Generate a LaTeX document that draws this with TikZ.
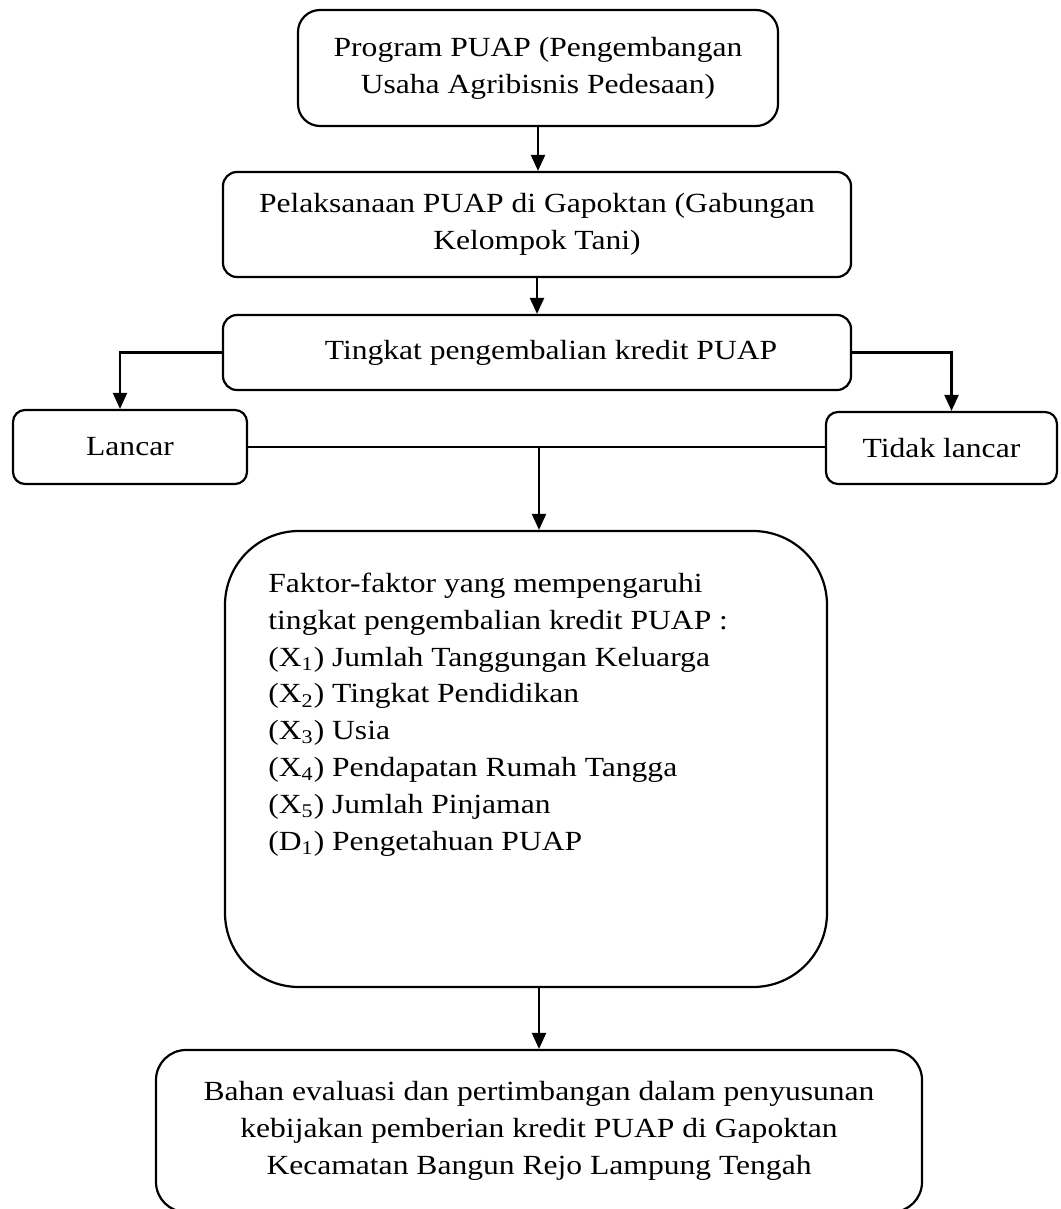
\documentclass[tikz,border=0pt]{standalone}
\usepackage{fontspec}
\setmainfont{Liberation Serif}[FakeStretch=1.14]
\usetikzlibrary{arrows.meta}
\begin{document}
\begin{tikzpicture}[x=0.5pt,y=-0.5pt,
  every node/.style={font=\fontsize{13.85pt}{18.4pt}\selectfont},
  box/.style={draw,line width=1.1pt,inner sep=0pt,align=center},
  arr/.style={line width=1.1pt,-{Triangle[length=8pt,width=7pt]}},
  ln/.style={line width=1.1pt}]
\useasboundingbox (0,0) rectangle (1060,1209);
\node[box,rounded corners=11pt,minimum width=240pt,minimum height=58pt] (b1) at (538,68)
  {Program PUAP (Pengembangan\\Usaha Agribisnis Pedesaan)};
\node[box,rounded corners=7pt,minimum width=314pt,minimum height=52.5pt] (b2) at (537,224.5)
  {Pelaksanaan PUAP di Gapoktan (Gabungan\\Kelompok Tani)};
\node[box,rounded corners=7pt,minimum width=314pt,minimum height=37.5pt] (b3) at (537,352.5)
  {\hspace*{14pt}Tingkat pengembalian kredit PUAP};
\node[box,rounded corners=6pt,minimum width=117pt,minimum height=37pt] (lancar) at (130,447) {Lancar};
\node[box,rounded corners=6pt,minimum width=115.5pt,minimum height=36pt] (tidak) at (941.5,448) {Tidak lancar};
\node[box,rounded corners=37pt,minimum width=301pt,minimum height=228pt] (fac) at (526,759) {};
\node[anchor=base west,align=left,inner sep=0pt] (factxt) at (268,850)
  {Faktor-faktor yang mempengaruhi\\
   tingkat pengembalian kredit PUAP :\\
   (X\textsubscript{1}) Jumlah Tanggungan Keluarga\\
   (X\textsubscript{2}) Tingkat Pendidikan\\
   (X\textsubscript{3}) Usia\\
   (X\textsubscript{4}) Pendapatan Rumah Tangga\\
   (X\textsubscript{5}) Jumlah Pinjaman\\
   (D\textsubscript{1}) Pengetahuan PUAP};
\node[box,rounded corners=15pt,minimum width=383pt,minimum height=81pt] (bahan) at (539,1131)
  {Bahan evaluasi dan pertimbangan dalam penyusunan\\
   kebijakan pemberian kredit PUAP di Gapoktan\\
   Kecamatan Bangun Rejo Lampung Tengah};
\draw[arr] (b1.south) -- (b1.south |- b2.north);
\draw[arr] (b2.south) -- (b2.south |- b3.north);
\draw[arr] (b3.west) -| ([xshift=-5pt]lancar.north);
\draw[arr] (b3.east) -| ([xshift=5pt]tidak.north);
\draw[ln] (lancar.east) -- (lancar.east -| tidak.west);
\coordinate (j) at (539,447);
\draw[arr] (j) -- (j |- fac.north);
\draw[arr] (bahan.north |- fac.south) -- (bahan.north);
\end{tikzpicture}
\end{document}
